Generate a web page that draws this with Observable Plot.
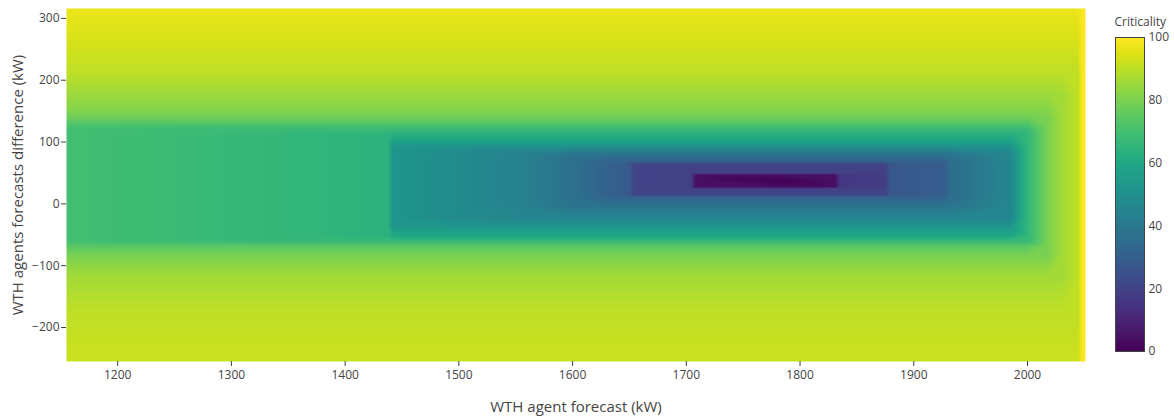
<!DOCTYPE html>
<html>
<head>
<meta charset="utf-8">
<script src="https://cdn.jsdelivr.net/npm/d3@7"></script>
<script src="https://cdn.jsdelivr.net/npm/@observablehq/plot@0.6"></script>
<style>
  body { margin: 0; background: #fff; }
  #wrap { position: relative; width: 1174px; height: 417px; }
  #wrap svg { position: absolute; top: 0; }
</style>
</head>
<body>
<div id="wrap"></div>
<script>
// Grid columns: WTH agent forecast (kW)
const forecastKW = [1155,1250,1350,1438,1442,1500,1560,1600,1625,1650,1654,1704,1708,1785,1831,1835,1875,1879,1927,1931,1985,2000,2018,2030,2044,2048,2051];
// Grid rows: WTH agents forecasts difference (kW)
const differenceKW = [316,267,212,175,154,140,128,121,110,99,92,80,67,65,49,47,37,27,25,14,12,-3,-24,-38,-52,-60,-68,-84,-116,-170,-255];
// Criticality read at each (row, column)
const criticality = [
  [97,97,97,97,97, 97,97,97,97,97, 97,97,97,97,97, 97,97,97,97,97, 97,97,97,97,97, 99,100],
  [94,94,94,94,94, 94,94,94,94,94, 94,94,94,94,94, 94,94,94,94,94, 94,94,94,94,94, 99,100],
  [90,90,90,90,90, 90,90,90,90,90, 90,90,90,90,90, 90,90,90,90,90, 90,90,90,90,90, 99,100],
  [85,85,85,85,85, 85,85,85,85,85, 85,85,85,85,85, 85,85,85,85,85, 85,85,85, 86,90,99,100],
  [82,82,82,82,82, 82,82,82,82,82, 82,82,82,82,82, 82,82,82,82,82, 82,82,82, 86,90,99,100],
  [78,78,78,78,78, 78,78,78,78,78, 78,78,78,78,78, 78,78,78,78,78, 78,78, 80,86,90,99,100],
  [72,72,72,72,72, 72,72,72,72,72, 72,72,72,72,72, 72,72,72,72,72, 72,72, 80,86,90,99,100],
  [70, 68,68,68,68,68, 68,68,68,68,68, 68,68,68,68,68, 68,68,68,68,68, 68, 80,86,90,99,100],
  [70,68,66,64, 62,62,62,62,62, 62,62,62,62,62, 62,62,62,62,62, 62,62, 66,80,86,90,99,100],
  [70,68,66,64, 56,56,56,56,56, 56,56,56,56,56, 56,56,56,56,56, 56,56, 66,80,86,90,99,100],
  [70,68,66,64,52, 50,50,50,50,50, 50,50,50,50,50, 50,50,50,50,50, 50, 66,80,86,90,99,100],
  [70,68,66,64,52,48,43, 38,38,38,38,38, 38,38,38,38,38, 38,38,38, 46,66,80,86,90,99,100],
  [70,68,66,64,52,48,43,37,32, 30,30,30,30,30, 30,30,30,30,30, 35,46,66,80,86,90,99,100],
  [70,68,66,64,52,48,43,37,32,28, 20,20,20,20,20,20,20, 27,29,35,46,66,80,86,90,99,100],
  [70,68,66,64,52,48,43,37,32,28,20, 19,19,19,19,19,19, 27,29,35,46,66,80,86,90,99,100],
  [70,68,66,64,52,48,43,37,32,28,20,19,4,4,4,16,18,27,29,35,46,66,80,86,90,99,100],
  [70,68,66,64,52,48,43,37,32,28,20,19,4,0,4,16,18,27,29,35,46,66,80,86,90,99,100],
  [70,68,66,64,52,48,43,37,32,28,20,19,4,4,4,16,18,27,29,35,46,66,80,86,90,99,100],
  [70,68,66,64,52,48,43,37,32,28,20, 19,19,19,19,19,19, 27,29,35,46,66,80,86,90,99,100],
  [70,68,66,64,52,48,43,37,32,28, 21,21,21,21,21,21,21, 27,29,35,46,66,80,86,90,99,100],
  [70,68,66,64,52,48,43,37,32, 30,30,30,30,30, 30,30,30,30,30, 35,46,66,80,86,90,99,100],
  [70,68,66,64,52,48,43, 38,38,38,38,38, 38,38,38,38,38, 38,38,38, 46,66,80,86,90,99,100],
  [70,68,66,64,52,48, 46,46,46,46,46, 46,46,46,46,46, 46,46,46,46,46, 66,80,86,90,99,100],
  [70,68,66,64, 53,53,53,53,53, 53,53,53,53,53, 53,53,53,53,53, 53,53, 66,80,86,90,99,100],
  [70,68,66,64, 60,60,60,60,60, 60,60,60,60,60, 60,60,60,60,60, 60,60, 66,80,86,90,99,100],
  [70,68, 67,67,67,67,67, 67,67,67,67,67, 67,67,67,67,67, 67,67,67,67,67, 80,86,90,99,100],
  [74,74,74,74,74, 74,74,74,74,74, 74,74,74,74,74, 74,74,74,74,74, 74,74, 80,86,90,99,100],
  [80,80,80,80,80, 80,80,80,80,80, 80,80,80,80,80, 80,80,80,80,80, 80,80,80, 86,90,99,100],
  [86,86,86,86,86, 86,86,86,86,86, 86,86,86,86,86, 86,86,86,86,86, 86,86,86,86, 90,99,100],
  [90,90,90,90,90, 90,90,90,90,90, 90,90,90,90,90, 90,90,90,90,90, 90,90,90,90,90, 99,100],
  [92,92,92,92,92, 92,92,92,92,92, 92,92,92,92,92, 92,92,92,92,92, 92,92,92,92,92, 99,100]
];
const xTicks = [1200,1300,1400,1500,1600,1700,1800,1900,2000];
const yTicks = [-200,-100,0,100,200,300];
const barTicks = [0,20,40,60,80,100];
const xTitle = "WTH agent forecast (kW)";
const yTitle = "WTH agents forecasts difference (kW)";
const barTitle = "Criticality";

const cells = differenceKW.flatMap((y, i) => forecastKW.map((x, j) => ({x, y, z: criticality[i][j]})));

const font = {fontFamily: "'Open Sans', sans-serif", fontSize: "12px", color: "#444", background: "transparent", overflow: "visible"};

const main = Plot.plot({
  width: 1174, height: 417,
  marginLeft: 66, marginRight: 89, marginTop: 8, marginBottom: 56,
  style: font,
  x: {domain: [1155, 2051]},
  y: {domain: [-255, 316]},
  color: {type: "linear", scheme: "viridis", domain: [0, 100]},
  marks: [
    Plot.raster(cells, {x: "x", y: "y", fill: "z", interpolate: "barycentric"}),
    Plot.axisX({ticks: xTicks, tickSize: 5, tickPadding: 4, tickFormat: "d", label: null}),
    Plot.axisY({ticks: yTicks, tickSize: 5, tickPadding: 2, tickFormat: "d", label: null}),
    Plot.text([xTitle], {frameAnchor: "bottom", dy: 46, fontSize: 15, textAnchor: "middle", lineAnchor: "middle", text: d => d}),
    Plot.text([yTitle], {frameAnchor: "left", dx: -48, rotate: -90, fontSize: 15, textAnchor: "middle", lineAnchor: "middle", text: d => d})
  ]
});
main.style.left = "0px";

const bar = Plot.plot({
  width: 60, height: 417,
  marginLeft: 1, marginRight: 30, marginTop: 37, marginBottom: 66,
  style: font,
  x: {domain: [0, 1], axis: null},
  y: {domain: [0, 100]},
  color: {type: "linear", scheme: "viridis", domain: [0, 100]},
  marks: [
    Plot.raster({x1: 0, x2: 1, y1: 0, y2: 100, fill: (x, y) => y}),
    Plot.frame({stroke: "#444"}),
    Plot.axisY({anchor: "right", ticks: barTicks, tickSize: 0, tickPadding: 4, tickFormat: "d", label: null}),
    Plot.text([barTitle], {frameAnchor: "top-left", dy: -15, dx: -1, fontSize: 12, textAnchor: "start", lineAnchor: "middle", text: d => d})
  ]
});
bar.style.left = "1114px";

document.getElementById("wrap").append(main, bar);
</script>
</body>
</html>
